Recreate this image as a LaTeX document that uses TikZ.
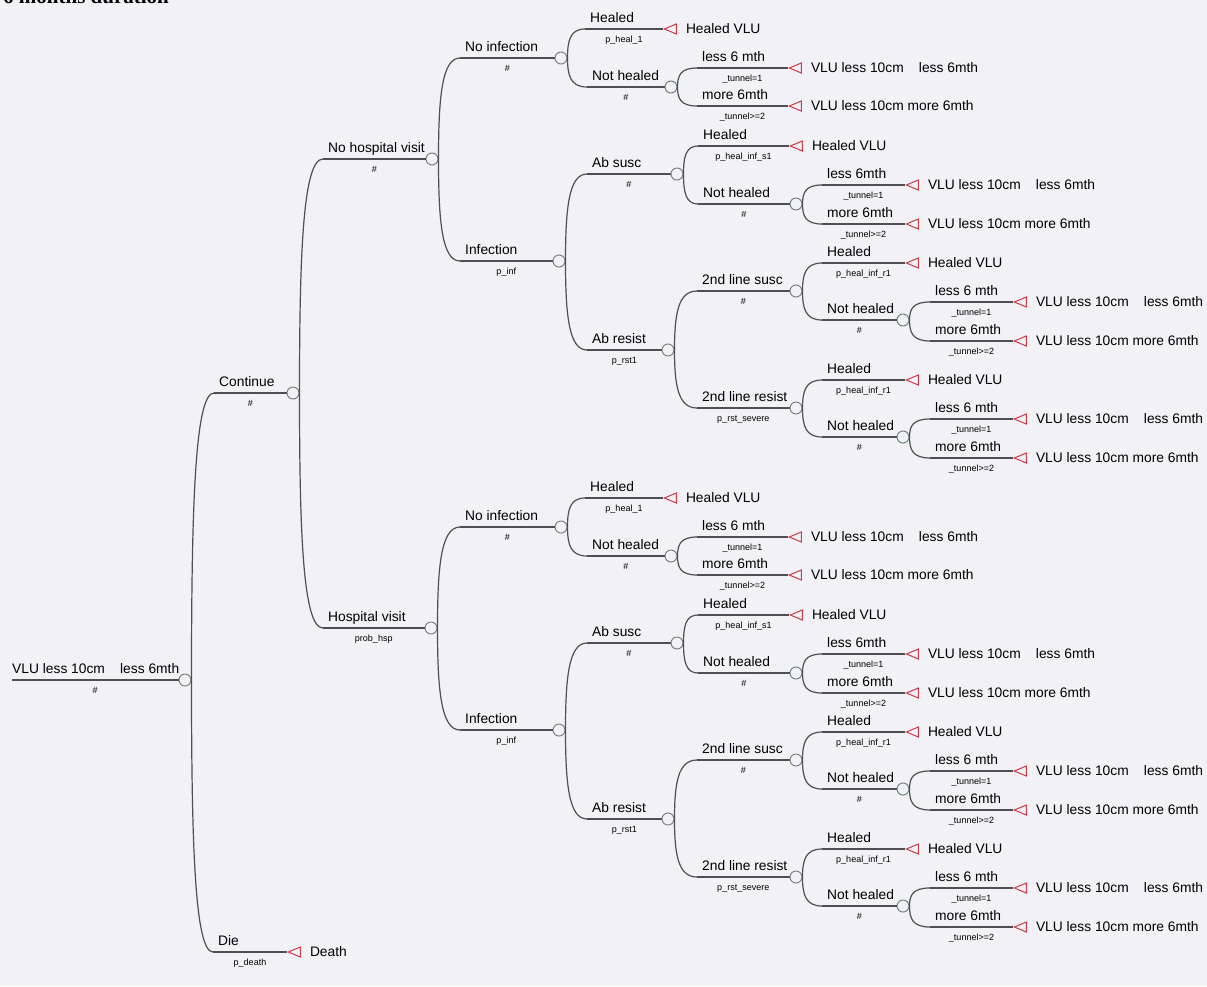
\documentclass[tikz,border=0pt]{standalone}
\usepackage{fontspec}
\setmainfont{Liberation Sans}
\newfontfamily\headfont{Liberation Serif}
\usetikzlibrary{calc, shapes.geometric}
\definecolor{paper}{RGB}{241,241,246}
\definecolor{branchgray}{RGB}{78,78,84}
\definecolor{nodegray}{RGB}{128,128,134}
\definecolor{tunnelgray}{RGB}{112,132,124}
\definecolor{leafred}{RGB}{208,58,72}

\newcommand{\gap}{\hspace{1.1em}}

% curved connector from a parent node to the start of a branch
\newcommand{\joint}[2]{%
  \draw[twig] (#1.east) .. controls ($(#1.east)!0.6!(#1.east|-#2)$)
    and ($(#2)!0.85!(#1.east|-#2)$) .. (#2);}

% chance branch: [style] name, parent, x start, y, x node, label, prob
\newcommand{\chance}[8][chancenode]{%
  \coordinate (#2-s) at (#4,#5);
  \node[#1] (#2) at (#6,#5) {};
  \draw[twig] (#2-s) -- (#2.west);
  \node[branchlabel] at (#2-s) {#7};
  \node[problabel] at ($(#2-s)!0.5!(#2.west)$) {#8};
  \joint{#3}{#2-s}}

% terminal branch: name, parent, x start, y, x tip, label, prob, outcome
\newcommand{\leaf}[8]{%
  \coordinate (#1-s) at (#3,#4);
  \node[endnode] (#1) at (#5,#4) {};
  \draw[twig] (#1-s) -- (#1.apex);
  \node[branchlabel] at (#1-s) {#6};
  \node[problabel] at ($(#1-s)!0.5!(#1.apex)$) {#7};
  \node[outcome] at (#1.east) {#8};
  \joint{#2}{#1-s}}

\begin{document}
\begin{tikzpicture}[x=1pt, y=-1pt,
  twig/.style={branchgray, line width=1.2pt},
  chancenode/.style={circle, draw=nodegray, fill=paper, line width=1pt,
    minimum size=12pt, inner sep=0pt},
  tunnelnode/.style={chancenode, draw=tunnelgray},
  endnode/.style={isosceles triangle, shape border rotate=180,
    isosceles triangle stretches, draw=leafred, fill=paper, line width=1pt,
    minimum width=10pt, minimum height=12pt, inner sep=0pt, anchor=apex},
  branchlabel/.style={anchor=base west, inner sep=0pt, xshift=5pt,
    yshift=6.5pt, font=\fontsize{13.8}{16}\selectfont},
  problabel/.style={anchor=north, inner sep=0pt, yshift=-7pt,
    font=\fontsize{9}{10}\selectfont},
  outcome/.style={anchor=west, inner sep=0pt, xshift=9pt,
    font=\fontsize{13.8}{16}\selectfont}]

\useasboundingbox (0,0) rectangle (1207,986);
\fill[paper] (0,0) rectangle (1207,986);

\node[anchor=base west, inner sep=0pt,
  font=\headfont\bfseries\fontsize{21}{24}\selectfont] (title) at (3,3)
  {6 months duration};

% ---- Root and first levels ----
\coordinate (root-s) at (12,680);
\node[chancenode] (root) at (185,680) {};
\draw[twig] (root-s) -- (root.west);
\node[branchlabel, xshift=-5pt] at (root-s) {VLU less 10cm\gap less 6mth};
\node[problabel] at ($(root-s)!0.5!(root.west)$) {\#};

\chance{cont}{root}{214}{393}{293}{Continue}{\#}
\leaf{die}{root}{213}{952}{287}{Die}{p\_death}{Death}
\chance{nhv}{cont}{323}{159}{432}{No hospital visit}{\#}
\chance{hv}{cont}{323}{628}{431}{Hospital visit}{prob\_hsp}

% ---- Same subtree after each hospital branch ----
\foreach \p/\dy in {nhv/0, hv/469}{
  \begin{scope}[shift={(0,\dy)}]
    \chance{\p-ni}{\p}{460}{58}{561}{No infection}{\#}
    \leaf{\p-ni-h}{\p-ni}{585}{29}{663}{Healed}{p\_heal\_1}{Healed VLU}
    \chance[tunnelnode]{\p-ni-n}{\p-ni}{587}{87}{671}{Not healed}{\#}
    \leaf{\p-ni-n-l}{\p-ni-n}{697}{68}{788}{less 6 mth}{\_tunnel=1}{VLU less 10cm\gap less 6mth}
    \leaf{\p-ni-n-m}{\p-ni-n}{697}{106}{788}{more 6mth}{\_tunnel>=2}{VLU less 10cm more 6mth}

    \chance{\p-in}{\p}{460}{261}{559}{Infection}{p\_inf}
    \chance{\p-as}{\p-in}{587}{174}{677}{Ab susc}{\#}
    \leaf{\p-as-h}{\p-as}{698}{146}{789}{Healed}{p\_heal\_inf\_s1}{Healed VLU}
    \chance[tunnelnode]{\p-as-n}{\p-as}{698}{204}{796}{Not healed}{\#}
    \leaf{\p-as-n-l}{\p-as-n}{822}{185}{905}{less 6mth}{\_tunnel=1}{VLU less 10cm\gap less 6mth}
    \leaf{\p-as-n-m}{\p-as-n}{822}{224}{905}{more 6mth}{\_tunnel>=2}{VLU less 10cm more 6mth}

    \chance{\p-ar}{\p-in}{587}{350}{668}{Ab resist}{p\_rst1}
    \chance{\p-ss}{\p-ar}{697}{291}{796}{2nd line susc}{\#}
    \leaf{\p-ss-h}{\p-ss}{822}{263}{905}{Healed}{p\_heal\_inf\_r1}{Healed VLU}
    \chance[tunnelnode]{\p-ss-n}{\p-ss}{822}{320}{903}{Not healed}{\#}
    \leaf{\p-ss-n-l}{\p-ss-n}{930}{302}{1013}{less 6 mth}{\_tunnel=1}{VLU less 10cm\gap less 6mth}
    \leaf{\p-ss-n-m}{\p-ss-n}{930}{341}{1013}{more 6mth}{\_tunnel>=2}{VLU less 10cm more 6mth}

    \chance{\p-sr}{\p-ar}{697}{408}{796}{2nd line resist}{p\_rst\_severe}
    \leaf{\p-sr-h}{\p-sr}{822}{380}{905}{Healed}{p\_heal\_inf\_r1}{Healed VLU}
    \chance[tunnelnode]{\p-sr-n}{\p-sr}{822}{437}{903}{Not healed}{\#}
    \leaf{\p-sr-n-l}{\p-sr-n}{930}{419}{1013}{less 6 mth}{\_tunnel=1}{VLU less 10cm\gap less 6mth}
    \leaf{\p-sr-n-m}{\p-sr-n}{930}{458}{1013}{more 6mth}{\_tunnel>=2}{VLU less 10cm more 6mth}
  \end{scope}
}

\end{tikzpicture}
\end{document}
